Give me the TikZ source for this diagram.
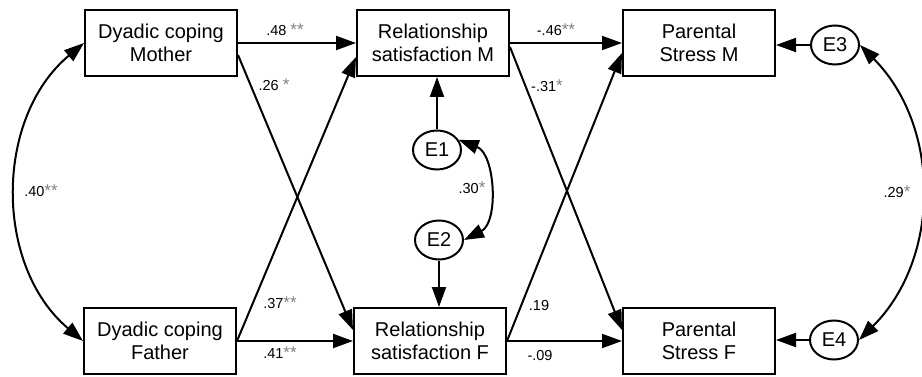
\documentclass[tikz,border=0pt]{standalone}
\usepackage{fontspec}
\setmainfont{Liberation Sans}
\usepackage{tikz}
\usetikzlibrary{arrows.meta,shapes.geometric}
\newcommand{\sigstar}{\textcolor{black!50}{\fontsize{17}{17}\selectfont *}}

\begin{document}
\begin{tikzpicture}[x=1pt, y=1pt, line width=2pt,
  >={Triangle[length=20pt,width=14pt]},
  box/.style={draw, minimum width=152pt, minimum height=66pt, align=center,
    inner sep=0pt, font=\fontsize{20}{23}\selectfont},
  err/.style={draw, ellipse, minimum width=48pt, minimum height=39pt,
    inner sep=0pt, font=\fontsize{20}{23}\selectfont},
  lab/.style={inner sep=0pt, font=\fontsize{14.5}{16}\selectfont}]
\useasboundingbox (0,0) rectangle (922,-377);

\node[box] (DCM) at (161,-43)  {Dyadic coping\\Mother};
\node[box] (DCF) at (160,-341) {Dyadic coping\\Father};
\node[box] (RSM) at (433,-43)  {Relationship\\satisfaction M};
\node[box] (RSF) at (430,-341) {Relationship\\satisfaction F};
\node[box] (PSM) at (699,-43)  {Parental\\Stress M};
\node[box] (PSF) at (699,-341) {Parental\\Stress F};
\node[err] (E1) at (437,-150) {E1};
\node[err] (E2) at (439,-240) {E2};
\node[err] (E3) at (835,-45)  {E3};
\node[err] (E4) at (834,-340) {E4};

\draw[->] (DCM.east) -- (RSM.west);
\draw[->] ([yshift=-12pt]DCM.east) -- ([yshift=11pt]RSF.west);
\draw[->] (DCF.east) -- ([yshift=-14pt]RSM.west);
\draw[->] (DCF.east) -- (RSF.west);
\draw[->] (RSM.east) -- (PSM.west);
\draw[->] ([yshift=-4pt]RSM.east) -- ([yshift=11pt]PSF.west);
\draw[->] (RSF.east) -- ([yshift=-10pt]PSM.west);
\draw[->] (RSF.east) -- (PSF.west);
\draw[->] (E1.north) -- (E1.north |- RSM.south);
\draw[->] (E2.south) -- (E2.south |- RSF.north);
\draw[->] (E3.west) -- (E3.west -| PSM.east);
\draw[->] (E4.west) -- (E4.west -| PSF.east);
\draw[<->] (DCM.west) to[bend right=50] (DCF.west);
\draw[<->] (E3.east) to[bend left=45] (E4.east);
\draw[<->] (E1.25) to[bend left=66] (E2.east);

\node[lab] (L48) at (285,-30)  {.48 \sigstar\sigstar};
\node[lab] (L26) at (274,-85)  {.26 \sigstar};
\node[lab] (L46) at (556,-30)  {-.46\sigstar\sigstar};
\node[lab] (L31) at (547,-86)  {-.31\sigstar};
\node[lab] (L40) at (41,-191)  {.40\sigstar\sigstar};
\node[lab] (L30) at (472,-188) {.30\sigstar};
\node[lab] (L29) at (897,-192) {.29\sigstar};
\node[lab] (L37) at (280,-303) {.37\sigstar\sigstar};
\node[lab] (L41) at (280,-353) {.41\sigstar\sigstar};
\node[lab] (L19) at (539,-306) {.19};
\node[lab] (L09) at (540,-356) {-.09};

\end{tikzpicture}
\end{document}
